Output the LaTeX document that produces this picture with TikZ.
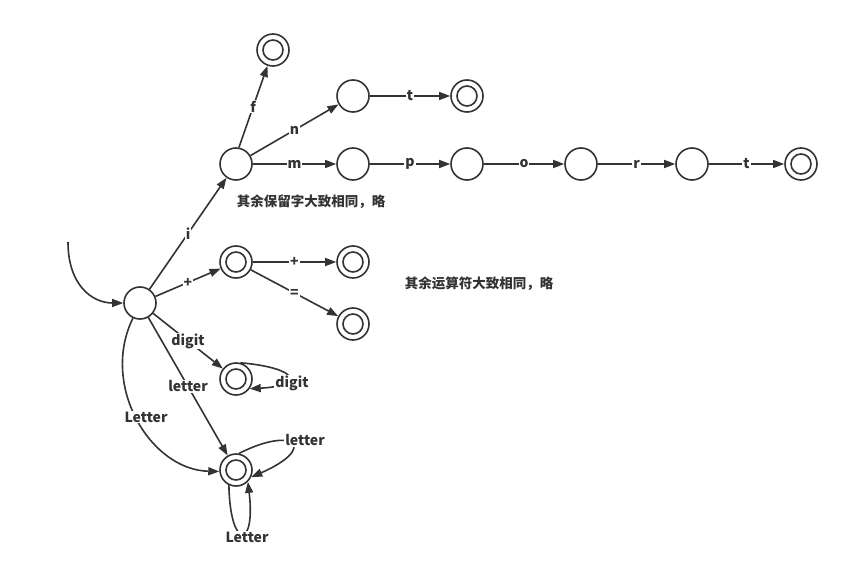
\documentclass[tikz,border=0pt]{standalone}
\usepackage{fontspec}
\setmainfont{Noto Sans CJK SC}
\usetikzlibrary{arrows.meta}
\definecolor{ink}{HTML}{333333}
\tikzset{
  st/.style={circle,draw=ink,line width=1.6pt,minimum size=32pt,inner sep=0pt},
  acc/.style={st,path picture={\draw[ink,line width=1.6pt] (path picture bounding box.center) circle (10pt);}},
  arr/.style={draw=ink,line width=1.6pt,-{Triangle[length=11pt,width=8pt]}},
  lbl/.style={fill=white,text=ink,font=\fontsize{14}{16}\selectfont\bfseries,inner sep=1pt},
  note/.style={text=ink,font=\fontsize{13.5}{16}\selectfont\bfseries,inner sep=0pt}
}
\begin{document}
\begin{tikzpicture}[x=1pt,y=-1pt]
\useasboundingbox (0,0) rectangle (866,577);
% states
\node[st]  (S)  at (140,303) {};
\node[acc] (F)  at (273,50)  {};
\node[st]  (I)  at (236,164) {};
\node[st]  (N)  at (353,96)  {};
\node[acc] (T1) at (467,96)  {};
\node[st]  (M)  at (353,164) {};
\node[st]  (P)  at (467,164) {};
\node[st]  (O)  at (581,164) {};
\node[st]  (R)  at (692,164) {};
\node[acc] (E)  at (801,164) {};
\node[acc] (A)  at (236,262) {};
\node[acc] (A2) at (353,262) {};
\node[acc] (A3) at (353,324) {};
\node[acc] (D)  at (236,379) {};
\node[acc] (L)  at (236,470) {};
\coordinate (start) at (68,242);
% start
\draw[arr] (start) .. controls (68,285) and (92,303) .. (S.180);
% edges
\draw[arr] (S) -- (I) node[lbl,pos=0.5] {i};
\draw[arr] (I.80) -- (F) node[lbl,pos=0.5] {f};
\draw[arr] (I) -- (N) node[lbl,pos=0.5] {n};
\draw[arr] (I) -- (M) node[lbl,pos=0.5] {m};
\draw[arr] (N) -- (T1) node[lbl,pos=0.5] {t};
\draw[arr] (M) -- (P) node[lbl,pos=0.5] {p};
\draw[arr] (P) -- (O) node[lbl,pos=0.5] {o};
\draw[arr] (O) -- (R) node[lbl,pos=0.5] {r};
\draw[arr] (R) -- (E) node[lbl,pos=0.5] {t};
\draw[arr] (S) -- (A) node[lbl,pos=0.5] {+};
\draw[arr] (A) -- (A2) node[lbl,pos=0.5] {+};
\draw[arr] (A) -- (A3) node[lbl,pos=0.5] {=};
\draw[arr] (S) -- (D) node[lbl,pos=0.5] {digit};
\draw[arr] (S) -- (L) node[lbl,pos=0.5] {letter};
\draw[arr] (S.-115) .. controls (100,385) and (150,470) .. (L.185);
% self loops
\draw[arr] (D.75) .. controls (300,368) and (305,386) .. (D.-35);
\draw[arr] (L.80) .. controls (295,425) and (318,448) .. (L.-25);
\draw[arr] (L.-115) .. controls (230,550) and (256,550) .. (L.-45);
% loop / curve labels
\node[lbl] (ld) at (292,383) {digit};
\node[lbl] (ll) at (305,440) {letter};
\node[lbl] (lL) at (247,537) {Letter};
\node[lbl] (lS) at (146,417) {Letter};
% notes
\node[note] (n1) at (311,202) {其余保留字大致相同，略};
\node[note] (n2) at (479,284) {其余运算符大致相同，略};
\end{tikzpicture}
\end{document}
